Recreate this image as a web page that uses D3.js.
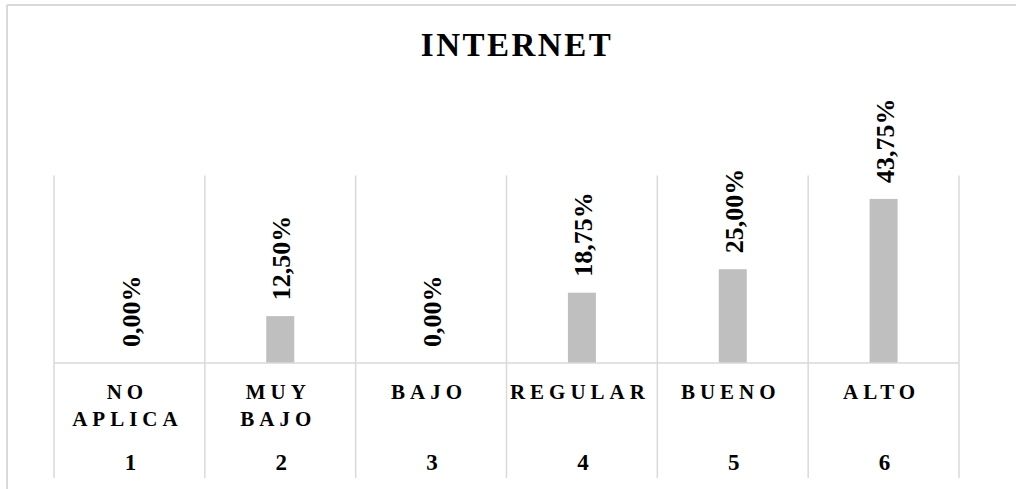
<!DOCTYPE html>
<html>
<head>
<meta charset="utf-8">
<script src="https://cdn.jsdelivr.net/npm/d3@7"></script>
<style>
  html, body { margin: 0; padding: 0; background: #ffffff; }
  svg { display: block; }
  text { font-family: "Liberation Serif", "Times New Roman", serif; font-weight: bold; fill: #000; }
</style>
</head>
<body>
<svg id="chart" width="1016" height="489"></svg>
<script>
// Chart data
const title = "INTERNET";
const codes = ["1", "2", "3", "4", "5", "6"];
const labelLines = [["NO", "APLICA"], ["MUY", "BAJO"], ["BAJO"], ["REGULAR"], ["BUENO"], ["ALTO"]];
const values = [0, 0.125, 0, 0.1875, 0.25, 0.4375];
const valueLabels = ["0,00%", "12,50%", "0,00%", "18,75%", "25,00%", "43,75%"];

const svg = d3.select("#chart");
const gridColor = "#d9d9d9";

// outer frame (top and left edges)
svg.append("line").attr("x1", 7).attr("x2", 1016).attr("y1", 5).attr("y2", 5)
  .attr("stroke", gridColor).attr("stroke-width", 2);
svg.append("line").attr("x1", 7).attr("x2", 7).attr("y1", 5).attr("y2", 489)
  .attr("stroke", gridColor).attr("stroke-width", 2);

// title
svg.append("text")
  .attr("x", 517).attr("y", 56)
  .attr("text-anchor", "middle")
  .style("font-size", "33px")
  .style("letter-spacing", "2.5px")
  .text(title);

// scales
const x = d3.scaleBand().domain(codes).range([54, 959]).paddingInner(0).paddingOuter(0);
const y = d3.scaleLinear().domain([0, 0.5]).range([363, 175.5]);
const barW = 28;

// category separators
const seps = codes.map(c => x(c)).concat([x.range()[1]]);
svg.append("g").selectAll("line").data(seps).join("line")
  .attr("x1", d => d).attr("x2", d => d)
  .attr("y1", y(0.5)).attr("y2", 478)
  .attr("stroke", gridColor).attr("stroke-width", 1.5);

// bars
svg.append("g").selectAll("rect").data(values).join("rect")
  .attr("x", (d, i) => x(codes[i]) + x.bandwidth() / 2 - barW / 2)
  .attr("y", d => y(d))
  .attr("width", barW)
  .attr("height", d => y(0) - y(d))
  .attr("fill", "#bfbfbf");

// baseline
svg.append("line").attr("x1", x.range()[0]).attr("x2", x.range()[1])
  .attr("y1", y(0)).attr("y2", y(0))
  .attr("stroke", gridColor).attr("stroke-width", 1.5);

// value labels, rotated
svg.append("g").selectAll("text").data(values).join("text")
  .attr("transform", (d, i) => {
    const cx = x(codes[i]) + x.bandwidth() / 2;
    return `translate(${cx + 1},${y(d) - 16}) rotate(-90)`;
  })
  .attr("dy", "0.35em")
  .attr("text-anchor", "start")
  .style("font-size", "26px")
  .text((d, i) => valueLabels[i]);

// category labels
const cat = svg.append("g").selectAll("g").data(codes).join("g")
  .attr("transform", c => `translate(${x(c) + x.bandwidth() / 2},0)`);
cat.each(function (c, i) {
  const g = d3.select(this);
  labelLines[i].forEach((line, j) => {
    g.append("text")
      .attr("x", -2).attr("y", 399 + j * 27)
      .attr("text-anchor", "middle")
      .style("font-size", "21px")
      .style("letter-spacing", "5px")
      .text(line);
  });
  g.append("text")
    .attr("x", 1).attr("y", 470)
    .attr("text-anchor", "middle")
    .style("font-size", "23px")
    .text(c);
});
</script>
</body>
</html>
